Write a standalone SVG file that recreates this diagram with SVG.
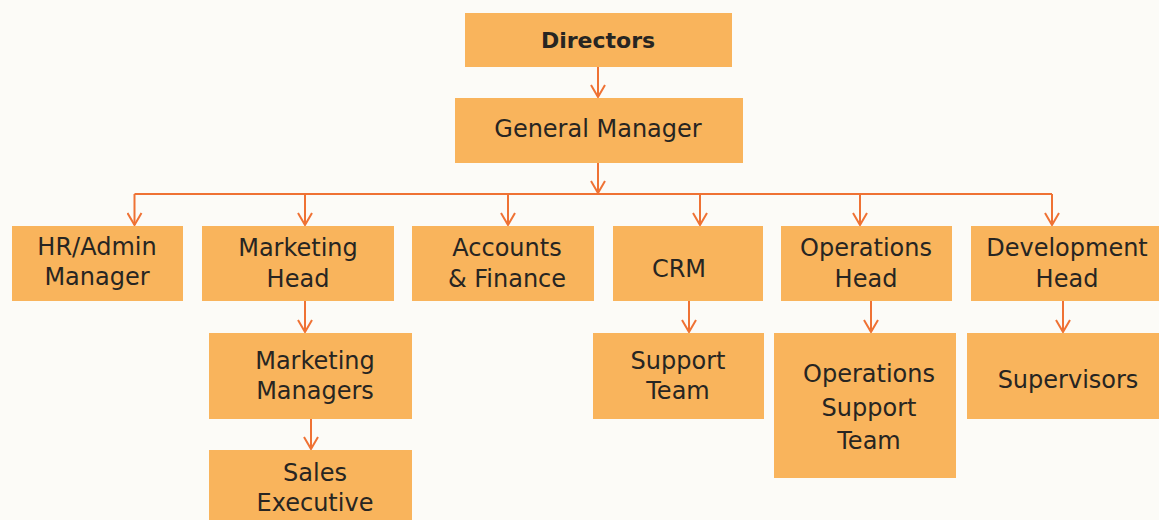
<svg xmlns="http://www.w3.org/2000/svg" width="1159" height="520" viewBox="0 0 1159 520">
<defs>
<style>
.box{fill:#F9B45C;}
.t{font-family:"DejaVu Sans","Liberation Sans",sans-serif;font-size:24px;fill:#272522;text-anchor:middle;}
.b{font-weight:bold;font-size:22px;}
.c{fill:none;stroke:#EF7234;stroke-width:2;}
</style>
<marker id="ah" viewBox="0 0 14 16" refX="13" refY="8" markerWidth="14" markerHeight="16" markerUnits="userSpaceOnUse" orient="auto">
<path d="M1,1 L13,8 L1,15" fill="none" stroke="#EF7234" stroke-width="2"/>
</marker>
</defs>
<rect width="1159" height="520" fill="#FCFBF7"/>
<g id="connectors">
<path class="c" d="M598,67 V97" marker-end="url(#ah)"/>
<path class="c" d="M598,163 V193" marker-end="url(#ah)"/>
<path class="c" d="M134.5,194 H1052"/>
<path class="c" d="M134.5,194 V225" marker-end="url(#ah)"/>
<path class="c" d="M305,194 V225" marker-end="url(#ah)"/>
<path class="c" d="M508,194 V225" marker-end="url(#ah)"/>
<path class="c" d="M700,194 V225" marker-end="url(#ah)"/>
<path class="c" d="M860,194 V225" marker-end="url(#ah)"/>
<path class="c" d="M1052,194 V225" marker-end="url(#ah)"/>
<path class="c" d="M305,301 V332" marker-end="url(#ah)"/>
<path class="c" d="M311,419 V449" marker-end="url(#ah)"/>
<path class="c" d="M689,301 V332" marker-end="url(#ah)"/>
<path class="c" d="M871,301 V332" marker-end="url(#ah)"/>
<path class="c" d="M1063,301 V332" marker-end="url(#ah)"/>
</g>
<g id="directors"><rect class="box" x="465" y="13" width="267" height="54"/><text class="t b" x="598" y="48">Directors</text></g>
<g id="general-manager"><rect class="box" x="455" y="98" width="288" height="65"/><text class="t" x="598" y="137">General Manager</text></g>
<g id="hr-admin"><rect class="box" x="12" y="226" width="171" height="75"/><text class="t" x="97" y="255">HR/Admin</text><text class="t" x="97" y="285">Manager</text></g>
<g id="marketing-head"><rect class="box" x="202" y="226" width="192" height="75"/><text class="t" x="298" y="256">Marketing</text><text class="t" x="298" y="287">Head</text></g>
<g id="accounts"><rect class="box" x="412" y="226" width="182" height="75"/><text class="t" x="507" y="256">Accounts</text><text class="t" x="507" y="287">&amp; Finance</text></g>
<g id="crm"><rect class="box" x="613" y="226" width="150" height="75"/><text class="t" x="679" y="277">CRM</text></g>
<g id="operations-head"><rect class="box" x="781" y="226" width="171" height="75"/><text class="t" x="866" y="256">Operations</text><text class="t" x="866" y="287">Head</text></g>
<g id="development-head"><rect class="box" x="971" y="226" width="188" height="75"/><text class="t" x="1067" y="256">Development</text><text class="t" x="1067" y="287">Head</text></g>
<g id="marketing-managers"><rect class="box" x="209" y="333" width="203" height="86"/><text class="t" x="315" y="369">Marketing</text><text class="t" x="315" y="399">Managers</text></g>
<g id="sales-executive"><rect class="box" x="209" y="450" width="203" height="70"/><text class="t" x="315" y="481">Sales</text><text class="t" x="315" y="511">Executive</text></g>
<g id="support-team"><rect class="box" x="593" y="333" width="171" height="86"/><text class="t" x="678" y="369">Support</text><text class="t" x="678" y="399">Team</text></g>
<g id="operations-support-team"><rect class="box" x="774" y="333" width="182" height="145"/><text class="t" x="869" y="382">Operations</text><text class="t" x="869" y="416">Support</text><text class="t" x="869" y="449">Team</text></g>
<g id="supervisors"><rect class="box" x="967" y="333" width="192" height="86"/><text class="t" x="1068" y="388">Supervisors</text></g>
</svg>
